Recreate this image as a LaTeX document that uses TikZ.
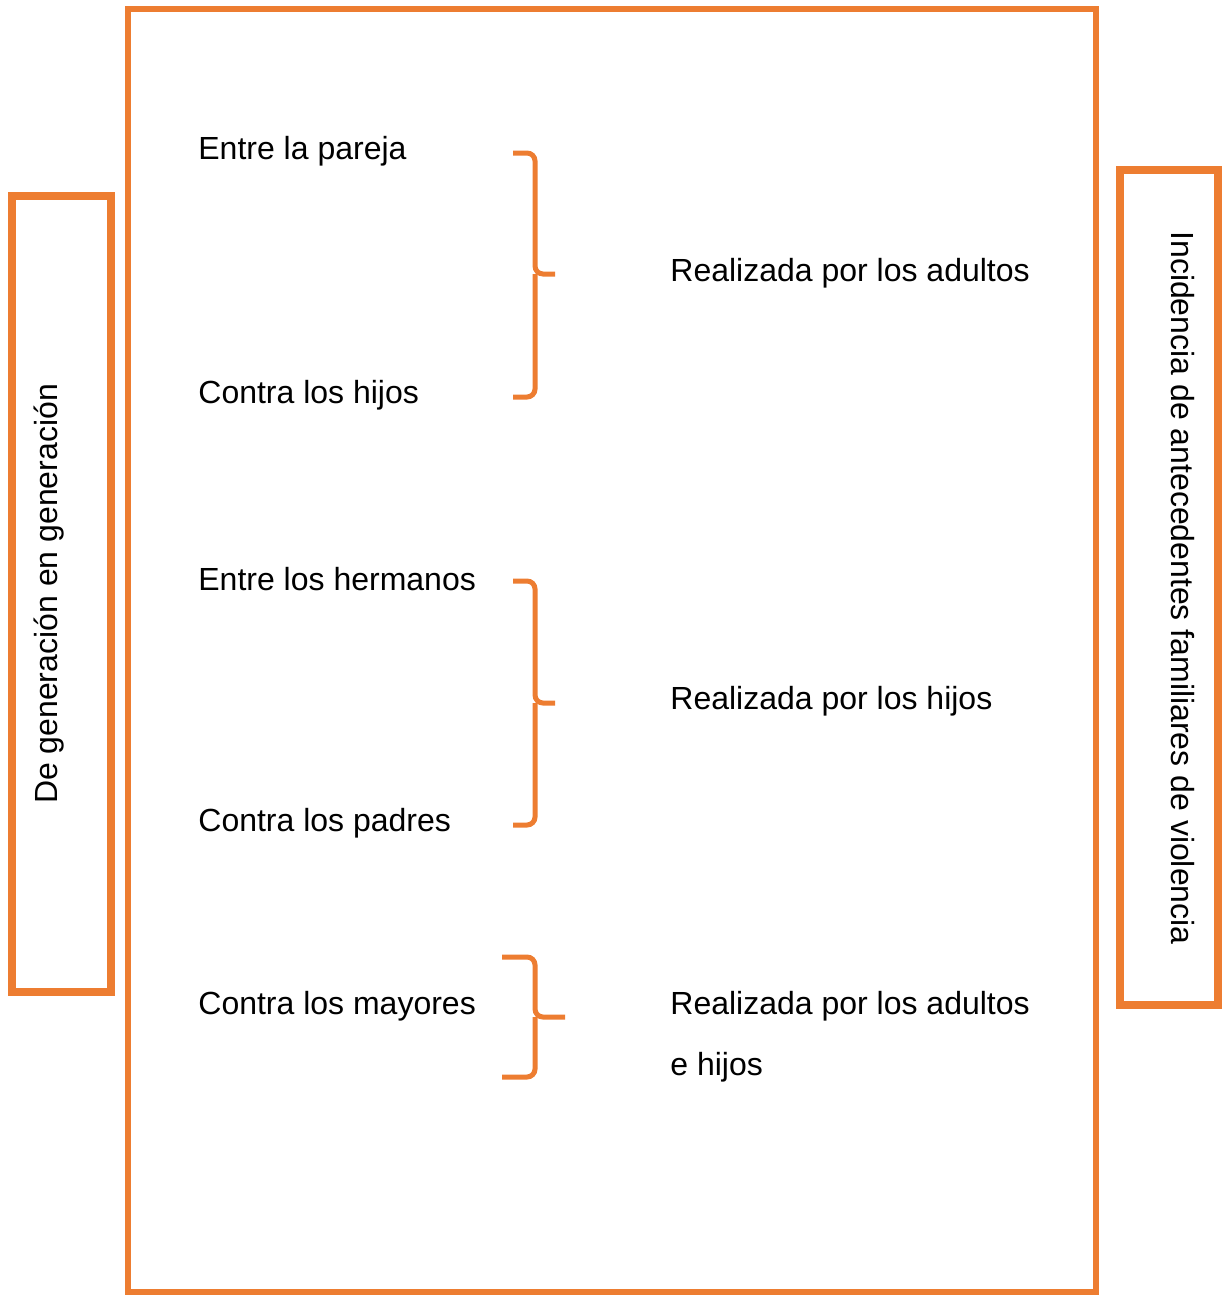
\documentclass[tikz,border=0pt]{standalone}
\usepackage{fontspec}
\setmainfont{Liberation Sans}
\definecolor{naranja}{HTML}{ED7D31}
\begin{document}
\begin{tikzpicture}[
  x=0.5pt,y=-0.5pt,
  marco/.style={draw=naranja,line width=3pt},
  lateral/.style={draw=naranja,line width=4pt},
  llave/.style={draw=naranja,line width=2.5pt,rounded corners=4pt},
  tipo/.style={anchor=west,inner sep=0pt,font=\fontsize{16}{19}\selectfont},
  girado/.style={inner sep=0pt,font=\fontsize{16}{19}\selectfont}
]
  \useasboundingbox (0,0) rectangle (1226,1295);

  % cuadros
  \draw[marco]   (128,9) rectangle (1096,1292);
  \draw[lateral] (12,196) rectangle (111,992);
  \draw[lateral] (1120,170) rectangle (1218,1005);

  \node[girado,rotate=90]  (gen) at (49,594)   {De generación en generación};
  \node[girado,rotate=-90] (inc) at (1183,588) {Incidencia de antecedentes familiares de violencia};

  % tipos de violencia
  \node[tipo] (pareja)    at (198,151)  {Entre la pareja};
  \node[tipo] (hijos)     at (198,395)  {Contra los hijos};
  \node[tipo] (hermanos)  at (198,579)  {Entre los hermanos};
  \node[tipo] (padres)    at (198,823)  {Contra los padres};
  \node[tipo] (mayores)   at (198,1006) {Contra los mayores};

  \node[tipo] (adultos)   at (670,273)  {Realizada por los adultos};
  \node[tipo] (porhijos)  at (670,701)  {Realizada por los hijos};
  \node[tipo] (ambos)     at (670,1006) {Realizada por los adultos};
  \node[tipo] (ambosb)    at (670,1067) {e hijos};

  % llaves
  \draw[llave] (513,153) -- (535,153) -- (535,274) -- (555,274);
  \draw[llave] (535,274) -- (535,397) -- (513,397);
  \draw[llave] (513,581) -- (535,581) -- (535,703) -- (555,703);
  \draw[llave] (535,703) -- (535,825) -- (513,825);
  \draw[llave] (502,957) -- (535,957) -- (535,1017) -- (565,1017);
  \draw[llave] (535,1017) -- (535,1077) -- (502,1077);
\end{tikzpicture}
\end{document}
